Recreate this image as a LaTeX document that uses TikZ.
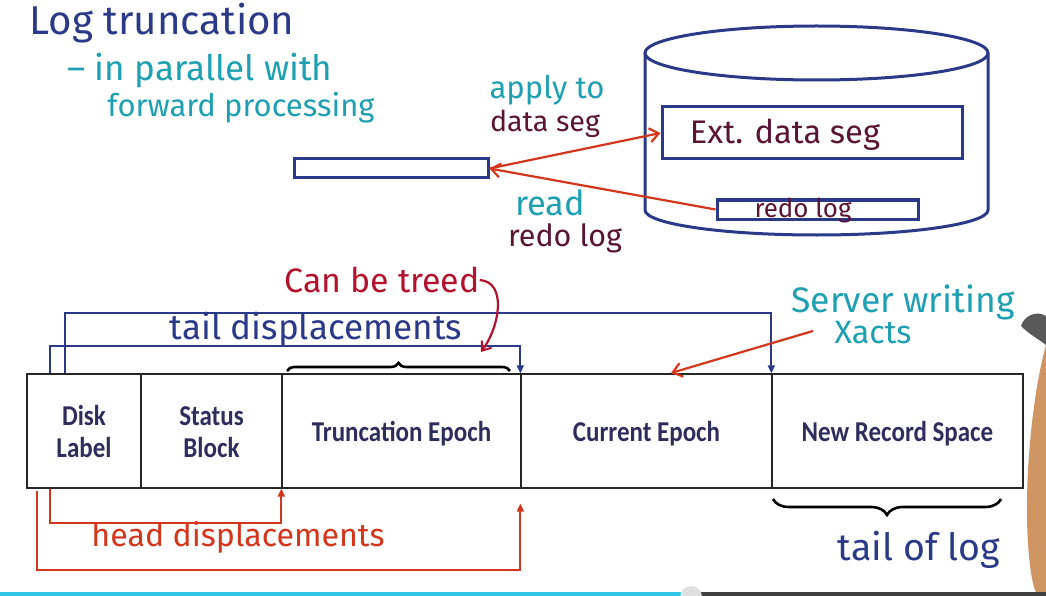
\documentclass[tikz,border=0pt]{standalone}
\usepackage{fontspec}
\usepackage{graphicx}
\setmainfont{Fira Sans}
\newfontfamily\tablefont{Carlito}
\usetikzlibrary{arrows.meta,decorations.pathreplacing,calc}
\definecolor{navy}{HTML}{2B3A88}
\definecolor{myteal}{HTML}{1FA0B2}
\definecolor{mymaroon}{HTML}{5A1533}
\definecolor{myred}{HTML}{D3361C}
\definecolor{mydred}{HTML}{B3122E}
\definecolor{celltext}{HTML}{2E2D5C}
\definecolor{barcyan}{HTML}{2EC6E2}
\definecolor{bardark}{HTML}{404040}
\definecolor{skin}{HTML}{CF9562}
\newcommand\fitw[2]{\resizebox{#1}{!}{#2}}
\newcommand\celltxt[1]{\raisebox{-4pt}[\height][\depth]{\scalebox{1}[1.15]{\begin{tabular}{@{}c@{}}#1\end{tabular}}}}
\begin{document}
\begin{tikzpicture}[x=1pt,y=-1pt,
  hand/.style={inner sep=0pt, anchor=center},
  cell/.style={draw=black!85, line width=1.3pt, minimum height=114pt, inner sep=0pt,
    text=celltext, align=center, font=\tablefont\bfseries\fontsize{25}{28}\selectfont},
  bluebox/.style={draw=navy, line width=3pt, inner sep=0pt},
  redarrow/.style={draw=myred, line width=2.2pt, -{Straight Barb[length=9pt,width=14pt,line width=2.2pt]}},
  tailline/.style={draw=navy, line width=1.8pt, -{Triangle[length=8pt,width=7pt]}},
  headline/.style={draw=myred, line width=1.8pt, -{Triangle[length=8pt,width=7pt]}},
  bracestyle/.style={draw=black, line width=2.6pt, decorate}
]
\useasboundingbox (0,0) rectangle (1046,596);
\fill[white] (0,0) rectangle (1046,596);

% top-left handwriting
\node[hand, text=navy] (title) at (162,23) {\fitw{265pt}{Log truncation}};
\node[hand, text=myteal] (par1) at (200,71) {\fitw{265pt}{– in parallel with}};
\node[hand, text=myteal] (par2) at (241,108) {\fitw{267pt}{forward processing}};

% buffer rectangle
\node[bluebox, minimum width=194pt, minimum height=19pt] (buf) at (391,168.5) {};

% cylinder (disk)
\draw[navy, line width=3pt] (816.5,53) ellipse [x radius=171.5, y radius=27];
\draw[navy, line width=3pt] (645,53) -- (645,210) arc[start angle=180, end angle=0, x radius=171.5, y radius=25] -- (988,53);

\node[bluebox, minimum width=300pt, minimum height=52pt] (ext) at (812,133) {};
\node[hand, text=mymaroon] (extlbl) at (785,135) {\fitw{190pt}{Ext. data seg}};
\node[bluebox, minimum width=201pt, minimum height=19pt] (redo) at (817.5,209.5) {};
\node[hand, text=mymaroon] (redolbl) at (803,211) {\fitw{97pt}{redo log}};

\draw[redarrow] (buf.east) -- (ext.west);
\draw[redarrow] (redo.west) -- (buf.east);

\node[hand, text=myteal] (apply) at (547,90) {\fitw{115pt}{apply to}};
\node[hand, text=mymaroon] (dseg) at (545,124) {\fitw{110pt}{data seg}};
\node[hand, text=myteal] (read) at (550,203) {\fitw{70pt}{read}};
\node[hand, text=mymaroon] (rlog) at (565,238) {\fitw{114pt}{redo log}};

% log table
\node[cell, minimum width=114pt] (c1) at (84,431) {\celltxt{Disk\\Label}};
\node[cell, minimum width=141pt] (c2) at (211.5,431) {\celltxt{Status\\Block}};
\node[cell, minimum width=239pt] (c3) at (401.5,431) {\celltxt{Truncation Epoch}};
\node[cell, minimum width=251pt] (c4) at (646.5,431) {\celltxt{Current Epoch}};
\node[cell, minimum width=251pt] (c5) at (897.5,431) {\celltxt{New Record Space}};

% tail displacements
\draw[tailline] ([xshift=39pt]c1.north west) -- ++(0,-60) -| (c5.north west);
\draw[tailline] ([xshift=24pt]c1.north west) -- ++(0,-27) -| (c4.north west);
\node[hand, text=navy] (taillbl) at (316,330) {\fitw{292pt}{tail displacements}};

% head displacements
\draw[headline] ([xshift=24pt]c1.south west) -- ++(0,34) -| (c3.south west);
\draw[headline] ([xshift=11pt,yshift=-2pt]c1.south west) -- ++(0,79) -| ([yshift=-15pt]c4.south west);
\node[hand, text=myred] (headlbl) at (238,537) {\fitw{293pt}{head displacements}};

% can be freed
\node[hand, text=mydred] (freed) at (382,280) {\fitw{195pt}{Can be treed}};
\coordinate (freedtip) at (481,352);
\draw[draw=mydred, line width=2.2pt, -{Straight Barb[length=8pt,width=12pt,line width=2pt]}]
  (freed.east) .. controls (507,282) and (500,326) .. (freedtip);

% braces
\draw[bracestyle, decoration={brace, amplitude=8pt}] (287,371) -- (510,371);
\draw[bracestyle, decoration={brace, amplitude=16pt}] (1001,499) -- (773,499);

% server writing xacts
\node[hand, text=myteal] (server) at (903,302) {\fitw{223pt}{Server writing}};
\node[hand, text=myteal] (xacts) at (873,333) {\fitw{77pt}{Xacts}};
\coordinate (srvfrom) at (813,331);
\coordinate (srvto) at (671,373);
\draw[redarrow] (srvfrom) -- (srvto);

\node[hand, text=navy] (taillog) at (919,550) {\fitw{162pt}{tail of log}};

% hand at right edge
\fill[skin] (1046,345) .. controls (1036,380) and (1026,450) .. (1027,520) .. controls (1028,560) and (1032,585) .. (1036,592) -- (1046,592) -- cycle;
\fill[black!65] (1046,316) .. controls (1036,310) and (1024,316) .. (1021,326) .. controls (1030,335) and (1040,340) .. (1046,345) -- cycle;

% video bar
\fill[barcyan] (0,592) rectangle (688,596);
\fill[bardark] (688,592) rectangle (1046,596);
\fill[black!12] (691,597) circle (11);
\end{tikzpicture}
\end{document}
